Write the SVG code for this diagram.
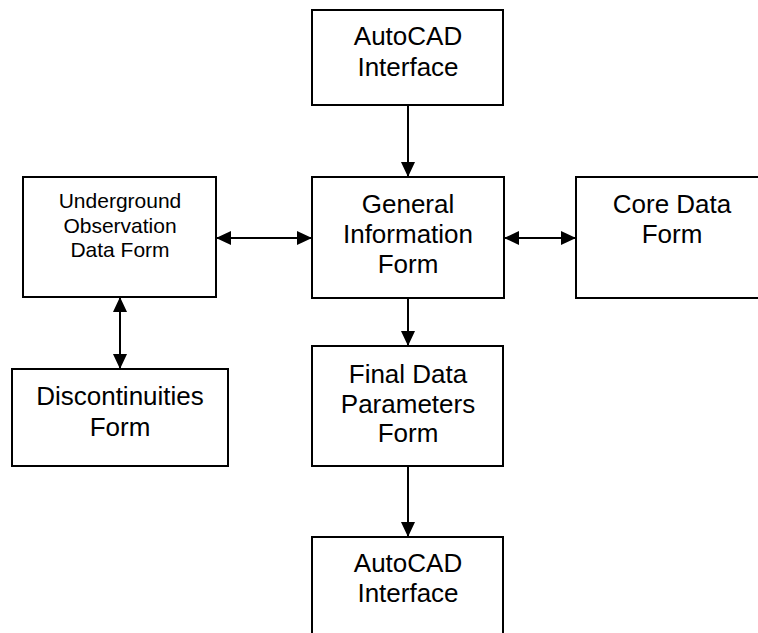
<svg xmlns="http://www.w3.org/2000/svg" width="758" height="633" viewBox="0 0 758 633">
<style>
.box{fill:#fff;stroke:#000;stroke-width:2}
.t{font-family:"Liberation Sans",Arial,sans-serif;font-size:26px;fill:#000;text-anchor:middle}
.s{font-size:21px}
.c{stroke:#000;stroke-width:2;fill:none}
</style>
<defs>
<marker id="ah" markerUnits="userSpaceOnUse" markerWidth="16" markerHeight="16" refX="15" refY="7" orient="auto-start-reverse" viewBox="0 0 16 14">
<path d="M0,0 L15,7 L0,14 Z" fill="#000"/>
</marker>
</defs>
<rect width="758" height="633" fill="#fff"/>
<g id="autocad-top">
<rect class="box" x="312" y="10" width="191" height="95"/>
<text class="t" x="408" y="45">AutoCAD</text>
<text class="t" x="408" y="76">Interface</text>
</g>
<g id="general">
<rect class="box" x="312" y="177" width="192" height="121"/>
<text class="t" x="408" y="213">General</text>
<text class="t" x="408" y="243">Information</text>
<text class="t" x="408" y="273">Form</text>
</g>
<g id="underground">
<rect class="box" x="23" y="177" width="193" height="120"/>
<text class="t s" x="120" y="208">Underground</text>
<text class="t s" x="120" y="233">Observation</text>
<text class="t s" x="120" y="257">Data Form</text>
</g>
<g id="core">
<path class="box" d="M770,177 H576 V298 H770"/>
<text class="t" x="672" y="213">Core Data</text>
<text class="t" x="672" y="243">Form</text>
</g>
<g id="discontinuities">
<rect class="box" x="12" y="369" width="216" height="97"/>
<text class="t" x="120" y="405">Discontinuities</text>
<text class="t" x="120" y="436">Form</text>
</g>
<g id="final">
<rect class="box" x="312" y="346" width="191" height="120"/>
<text class="t" x="408" y="383">Final Data</text>
<text class="t" x="408" y="413">Parameters</text>
<text class="t" x="408" y="442">Form</text>
</g>
<g id="autocad-bottom">
<path class="box" d="M312,645 V537 H503 V645"/>
<text class="t" x="408" y="572">AutoCAD</text>
<text class="t" x="408" y="602">Interface</text>
</g>
<g id="connectors">
<line class="c" x1="408" y1="105" x2="408" y2="177" marker-end="url(#ah)"/>
<line class="c" x1="216" y1="238" x2="312" y2="238" marker-start="url(#ah)" marker-end="url(#ah)"/>
<line class="c" x1="504" y1="238" x2="576" y2="238" marker-start="url(#ah)" marker-end="url(#ah)"/>
<line class="c" x1="120" y1="297" x2="120" y2="369" marker-start="url(#ah)" marker-end="url(#ah)"/>
<line class="c" x1="408" y1="298" x2="408" y2="346" marker-end="url(#ah)"/>
<line class="c" x1="408" y1="466" x2="408" y2="537" marker-end="url(#ah)"/>
</g>
</svg>
